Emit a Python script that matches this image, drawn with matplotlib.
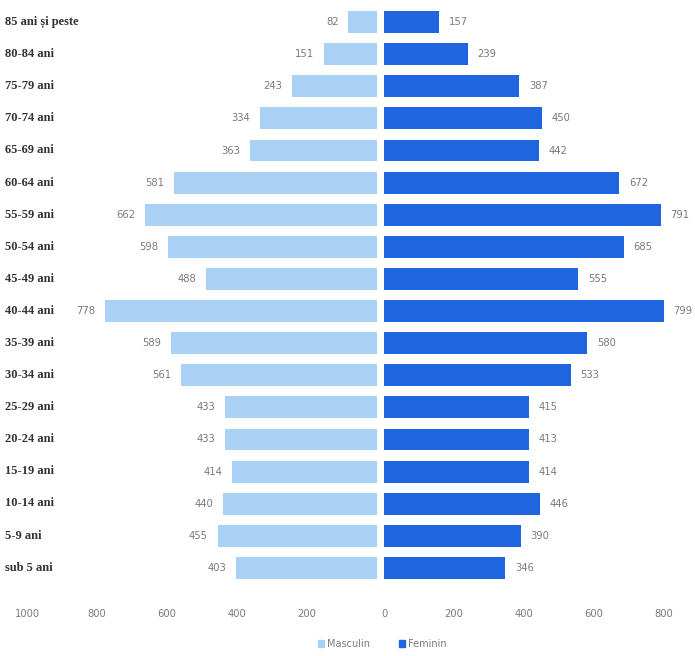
import matplotlib
matplotlib.use("Agg")
import matplotlib.pyplot as plt
from matplotlib.patches import Patch

categories = ["85 ani și peste", "80-84 ani", "75-79 ani", "70-74 ani", "65-69 ani",
              "60-64 ani", "55-59 ani", "50-54 ani", "45-49 ani", "40-44 ani",
              "35-39 ani", "30-34 ani", "25-29 ani", "20-24 ani", "15-19 ani",
              "10-14 ani", "5-9 ani", "sub 5 ani"]
masculin = [82, 151, 243, 334, 363, 581, 662, 598, 488, 778, 589, 561, 433, 433, 414, 440, 455, 403]
feminin = [157, 239, 387, 450, 442, 672, 791, 685, 555, 799, 580, 533, 415, 413, 414, 446, 390, 346]
left_ticks = [1000, 800, 600, 400, 200]
right_ticks = [0, 200, 400, 600, 800]

c_m = "#a9d0f5"
c_f = "#1f65e0"
grey = "#7a7a7a"
num_font = ["Liberation Sans Narrow", "DejaVu Sans"]

W, H = 695, 656
fig = plt.figure(figsize=(W / 100, H / 100), dpi=100)

bottom = (H - 584) / H
height = 578 / H
ax_l = fig.add_axes([27 / W, bottom, 350 / W, height])
ax_r = fig.add_axes([384 / W, bottom, 308 / W, height])

y = list(range(len(categories)))

ax_l.barh(y, masculin, height=0.68, color=c_m)
ax_r.barh(y, feminin, height=0.68, color=c_f)

ax_l.set_xlim(1000, 0)
ax_r.set_xlim(0, 880)
ax_l.set_xticks(left_ticks)
ax_r.set_xticks(right_ticks)
for ax in (ax_l, ax_r):
    ax.set_ylim(len(categories) - 0.5, -0.5)
    ax.set_yticks([])
    for s in ax.spines.values():
        s.set_visible(False)
    ax.tick_params(axis="x", length=0, pad=18, labelsize=8, labelcolor=grey)
    for lab in ax.get_xticklabels():
        lab.set_family(num_font)
        lab.set_stretch("condensed")

for i, v in enumerate(masculin):
    ax_l.annotate(str(v), (v, i), xytext=(-7, 0), textcoords="offset points",
                  ha="right", va="center", fontsize=8, color=grey, family=num_font,
                  stretch="condensed")
for i, v in enumerate(feminin):
    ax_r.annotate(str(v), (v, i), xytext=(7, 0), textcoords="offset points",
                  ha="left", va="center", fontsize=8, color=grey, family=num_font,
                  stretch="condensed")

# category labels on the far left
for i, c in enumerate(categories):
    yy = 1 - (22 + i * 32.1) / H
    fig.text(5 / W, yy, c, ha="left", va="center", fontsize=9, fontweight="bold",
             family="Liberation Serif", color="#333333")

handles = [Patch(color=c_m, label="Masculin"), Patch(color=c_f, label="Feminin")]
fig.legend(handles=handles, loc="center", bbox_to_anchor=(382 / W, 12 / H), ncol=2,
           frameon=False, fontsize=7, handlelength=0.6, handleheight=0.6,
           handletextpad=0.3, columnspacing=3, labelcolor=grey)

fig.savefig("out.png", dpi=100)
